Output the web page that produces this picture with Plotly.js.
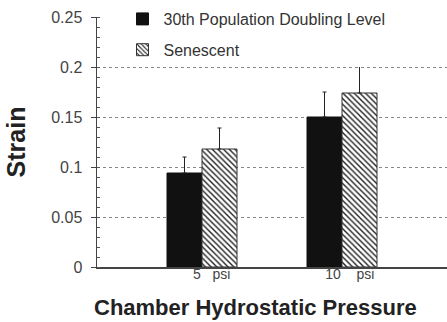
<!DOCTYPE html>
<html><head><meta charset="utf-8">
<script src="https://cdn.plot.ly/plotly-3.0.1.min.js"></script>
<style>html,body{margin:0;padding:0;background:#fff;}#chart{width:447px;height:322px;}</style>
</head><body><div id="chart"></div>
<script>
const categories = ['5 psi', '10 psi'];
const tickLabels = ['\u00a0\u00a0\u00a0\u00a0\u00a05\u00a0\u00a0\u00a0psi', '\u00a0\u00a0\u00a0\u00a010\u00a0\u00a0\u00a0\u00a0psi'];
const seriesNames = ['30th Population Doubling Level', 'Senescent'];
const pdl30 = [0.094, 0.150];
const pdl30Err = [0.016, 0.025];
const senescent = [0.118, 0.174];
const senescentErr = [0.021, 0.030];
const yTickVals = [0, 0.05, 0.1, 0.15, 0.2, 0.25];
const yTickText = ['0', '0.05', '0.1', '0.15', '0.2', '0.25'];
const xTitle = 'Chamber Hydrostatic Pressure';
const yTitle = 'Strain';

const font = "'Liberation Sans', Arial, Helvetica, sans-serif";
const errStyle = {type: 'data', symmetric: false, arrayminus: [0, 0], color: '#222', thickness: 1, width: 2};

const traces = [
  {type: 'bar', name: seriesNames[0], legendgroup: 'a', x: categories, y: pdl30,
   marker: {color: '#111', line: {color: '#111', width: 1}},
   error_y: Object.assign({array: pdl30Err}, errStyle)},
  {type: 'bar', name: seriesNames[1], legendgroup: 'b', x: categories, y: senescent,
   marker: {color: '#fff', line: {color: '#333', width: 1},
            pattern: {shape: '\\', fgcolor: '#222', bgcolor: '#fff', size: 4, solidity: 0.35}},
   error_y: Object.assign({array: senescentErr}, errStyle)}
];

const layout = {
  width: 447, height: 322,
  margin: {l: 97, r: 0, t: 17, b: 55},
  paper_bgcolor: '#fff', plot_bgcolor: '#fff',
  barmode: 'group', bargap: 0.5, bargroupgap: 0,
  font: {family: font, color: '#333'},
  showlegend: true,
  legend: {x: 0.07, y: 1.06, xanchor: 'left', yanchor: 'top', bgcolor: '#fff',
           font: {size: 16, color: '#333'}, tracegroupgap: 7, itemwidth: 32},
  xaxis: {type: 'category', range: [-0.75, 1.75], tickvals: categories, ticktext: tickLabels,
          showline: true, linecolor: '#444', linewidth: 1.5, ticks: '', showgrid: false, zeroline: false,
          tickfont: {size: 14, color: '#444'}, ticklabelstandoff: -6},
  yaxis: {range: [0, 0.25], tickvals: yTickVals, ticktext: yTickText,
          showline: true, linecolor: '#444', linewidth: 1.5, ticks: 'outside', ticklen: 5, tickcolor: '#444',
          minor: {tickmode: 'linear', tick0: 0, dtick: 0.01, ticks: 'inside', ticklen: 3, tickcolor: '#555', tickwidth: 1, showgrid: false},
          showgrid: true, gridcolor: '#888', griddash: 'dot', gridwidth: 1, zeroline: false,
          tickfont: {size: 16, color: '#444'}, ticklabelstandoff: 5,
          title: {text: yTitle, font: {size: 25, color: '#222', family: font, weight: 'bold'}, standoff: 18}},
  annotations: [{text: xTitle, xref: 'paper', yref: 'paper', x: 0.454, y: -0.16,
                 xanchor: 'center', yanchor: 'middle', showarrow: false,
                 font: {size: 22, color: '#222', family: font, weight: 'bold'}}]
};

Plotly.newPlot('chart', traces, layout, {displayModeBar: false, staticPlot: true});
</script></body></html>
